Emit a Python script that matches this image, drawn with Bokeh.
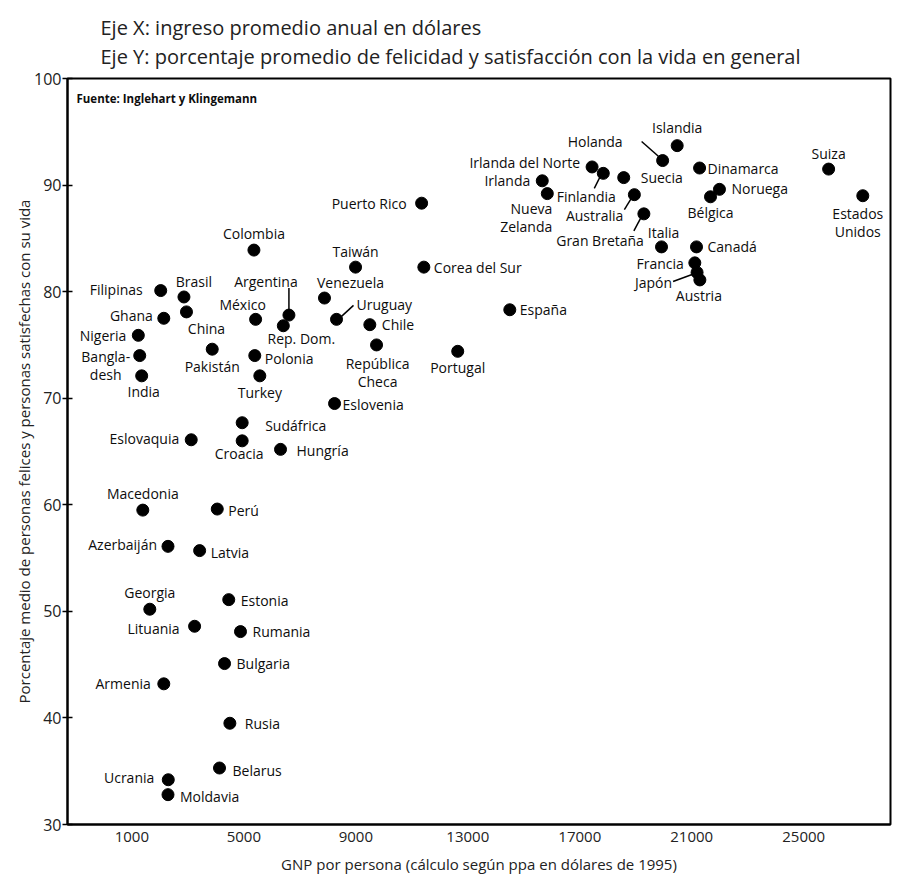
from bokeh.plotting import figure
from bokeh.models import Range1d, FixedTicker, Title, Label
from bokeh.embed import file_html
from bokeh.resources import INLINE
from bokeh.core.properties import value

# ---------------- data ----------------
countries = [
    "Islandia", "Holanda", "Dinamarca", "Suiza", "Irlanda del Norte", "Finlandia",
    "Suecia", "Noruega", "Bélgica", "Estados Unidos", "Irlanda", "Nueva Zelanda",
    "Australia", "Gran Bretaña", "Italia", "Canadá", "Francia", "Japón", "Austria",
    "Corea del Sur", "España", "Puerto Rico", "Portugal", "Colombia", "Taiwán",
    "Filipinas", "Brasil", "Ghana", "China", "México", "Argentina", "Rep. Dom.",
    "Venezuela", "Uruguay", "Chile", "República Checa", "Nigeria", "Bangladesh",
    "India", "Pakistán", "Polonia", "Turkey", "Eslovenia", "Sudáfrica",
    "Eslovaquia", "Croacia", "Hungría", "Macedonia", "Perú", "Azerbaiján",
    "Latvia", "Georgia", "Estonia", "Lituania", "Rumania", "Bulgaria", "Armenia",
    "Rusia", "Belarus", "Ucrania", "Moldavia",
]
gnp = [
    20480, 19960, 21280, 25890, 17440, 17840,
    18570, 21990, 21670, 27110, 15660, 15840,
    18950, 19290, 19920, 21170, 21110, 21190, 21290,
    11430, 14500, 11350, 12640, 5360, 8990,
    2030, 2860, 2140, 2950, 5420, 6610, 6410,
    7880, 8310, 9500, 9740, 1230, 1280,
    1350, 3870, 5390, 5570, 8240, 4940,
    3120, 4940, 6310, 1390, 4050, 2290,
    3420, 1640, 4460, 3240, 4880, 4310, 2140,
    4500, 4130, 2300, 2290,
]
happiness = [
    93.7, 92.3, 91.6, 91.5, 91.7, 91.1,
    90.7, 89.6, 88.9, 89.0, 90.4, 89.2,
    89.1, 87.3, 84.2, 84.2, 82.7, 81.8, 81.1,
    82.3, 78.3, 88.3, 74.4, 83.9, 82.3,
    80.1, 79.5, 77.5, 78.1, 77.4, 77.8, 76.8,
    79.4, 77.4, 76.9, 75.0, 75.9, 74.0,
    72.1, 74.6, 74.0, 72.1, 69.5, 67.7,
    66.1, 66.0, 65.2, 59.5, 59.6, 56.1,
    55.7, 50.2, 51.1, 48.6, 48.1, 45.1, 43.2,
    39.5, 35.3, 34.2, 32.8,
]
x_ticks = [1000, 5000, 9000, 13000, 17000, 21000, 25000]
y_ticks = [30, 40, 50, 60, 70, 80, 90, 100]

title_x = "Eje X: ingreso promedio anual en dólares"
title_y = "Eje Y: porcentaje promedio de felicidad y satisfacción con la vida en general"
x_label = "GNP por persona (cálculo según ppa en dólares de 1995)"
y_label = "Porcentaje medio de personas felices y personas satisfechas con su vida"
source_note = "Fuente: Inglehart y Klingemann"

# multi-line label texts
label_text = {
    "Nueva Zelanda": "Nueva\nZelanda",
    "Estados Unidos": "Estados\nUnidos",
    "República Checa": "República\nCheca",
    "Bangladesh": "Bangla-\ndesh",
}

# ---------------- layout / style ----------------
X0, X1 = -1300, 28100
Y0, Y1 = 30, 100
FW, FH = 823, 746
XPP = (X1 - X0) / FW     # data units per pixel
YPP = (Y1 - Y0) / FH

FONT = "Open Sans"
INK = "#0d0d0d"

# label placement in screen px relative to the dot: dx, dy(down), align, baseline
place = {
    "Islandia": (0, -18, "center", "middle"),
    "Holanda": (-40, -19, "right", "middle"),
    "Dinamarca": (8, 0, "left", "middle"),
    "Suiza": (0, -16, "center", "middle"),
    "Irlanda del Norte": (-12, -4, "right", "middle"),
    "Finlandia": (-17, 23, "center", "middle"),
    "Suecia": (17, 0, "left", "middle"),
    "Noruega": (12, -1, "left", "middle"),
    "Bélgica": (0, 16, "center", "middle"),
    "Estados Unidos": (-5, 8, "center", "top"),
    "Irlanda": (-12, 0, "right", "middle"),
    "Nueva Zelanda": (5, 5, "right", "top"),
    "Australia": (-11, 21, "right", "middle"),
    "Gran Bretaña": (0, 27, "right", "middle"),
    "Italia": (2, -14, "center", "middle"),
    "Canadá": (11, 0, "left", "middle"),
    "Francia": (-11, 1, "right", "middle"),
    "Japón": (-25, 10, "right", "middle"),
    "Austria": (-1, 16, "center", "middle"),
    "Corea del Sur": (10, 0, "left", "middle"),
    "España": (10, 0, "left", "middle"),
    "Puerto Rico": (-15, 0, "right", "middle"),
    "Portugal": (0, 16, "center", "middle"),
    "Colombia": (0, -17, "center", "middle"),
    "Taiwán": (0, -16, "center", "middle"),
    "Filipinas": (-18, -1, "right", "middle"),
    "Brasil": (10, -15, "center", "middle"),
    "Ghana": (-11, -3, "right", "middle"),
    "China": (20, 17, "center", "middle"),
    "México": (-13, -15, "center", "middle"),
    "Argentina": (-23, -34, "center", "middle"),
    "Rep. Dom.": (18, 13, "center", "middle"),
    "Venezuela": (26, -16, "center", "middle"),
    "Uruguay": (20, -15, "left", "middle"),
    "Chile": (12, 0, "left", "middle"),
    "República Checa": (1, 9, "center", "top"),
    "Nigeria": (-12, 0, "right", "middle"),
    "Bangladesh": (-34, -9, "center", "top"),
    "India": (2, 16, "center", "middle"),
    "Pakistán": (0, 17, "center", "middle"),
    "Polonia": (10, 3, "left", "middle"),
    "Turkey": (0, 17, "center", "middle"),
    "Eslovenia": (8, 1, "left", "middle"),
    "Sudáfrica": (23, 3, "left", "middle"),
    "Eslovaquia": (-12, -1, "right", "middle"),
    "Croacia": (-3, 13, "center", "middle"),
    "Hungría": (16, 1, "left", "middle"),
    "Macedonia": (0, -17, "center", "middle"),
    "Perú": (11, 1, "left", "middle"),
    "Azerbaiján": (-11, -2, "right", "middle"),
    "Latvia": (11, 2, "left", "middle"),
    "Georgia": (0, -17, "center", "middle"),
    "Estonia": (12, 1, "left", "middle"),
    "Lituania": (-15, 2, "right", "middle"),
    "Rumania": (12, 0, "left", "middle"),
    "Bulgaria": (12, 0, "left", "middle"),
    "Armenia": (-13, 0, "right", "middle"),
    "Rusia": (15, 0, "left", "middle"),
    "Belarus": (13, 2, "left", "middle"),
    "Ucrania": (-14, -2, "right", "middle"),
    "Moldavia": (12, 2, "left", "middle"),
}

# leader lines in screen px relative to the dot: (x0, y0, x1, y1)
leaders = {
    "Holanda": (-21, -19, -4, -4),
    "Finlandia": (-9, 15, -3, 3),
    "Australia": (-10, 15, -2, 2),
    "Gran Bretaña": (-10, 17, -2, 2),
    "Japón": (-24, 9, -5, 2),
    "Argentina": (0, -27, 0, -5),
    "Uruguay": (5, -3, 17, -14),
}

p = figure(frame_width=FW, frame_height=FH,
           output_backend="svg", toolbar_location=None, title=None,
           x_range=Range1d(X0, X1), y_range=Range1d(Y0, Y1),
           min_border_left=67, min_border_right=2, min_border_top=78,
           min_border_bottom=0)
p.background_fill_color = "white"
p.border_fill_color = "white"
p.outline_line_color = "black"
p.outline_line_width = 2
p.grid.visible = False

p.xaxis.ticker = FixedTicker(ticks=x_ticks)
p.xaxis.major_tick_in = 0
p.xaxis.major_tick_out = 0
p.xaxis.minor_tick_line_color = None
p.xaxis.major_label_standoff = 7
p.xaxis.major_label_text_font = FONT
p.xaxis.major_label_text_font_size = "15px"
p.xaxis.major_label_text_color = "#222222"
p.xaxis.axis_label = x_label
p.xaxis.axis_label_standoff = 9
p.xaxis.axis_label_text_font = FONT
p.xaxis.axis_label_text_font_size = "15px"
p.xaxis.axis_label_text_font_style = "normal"
p.xaxis.axis_label_text_color = "#222222"

p.yaxis.ticker = FixedTicker(ticks=y_ticks)
p.yaxis.major_tick_in = 5
p.yaxis.major_tick_out = 5
p.yaxis.minor_tick_line_color = None
p.yaxis.major_label_standoff = 1
p.yaxis.major_label_text_font = FONT
p.yaxis.major_label_text_font_size = "16px"
p.yaxis.major_label_text_color = "#222222"

for ax in (p.xaxis, p.yaxis):
    ax.axis_line_width = 2
    ax.axis_line_color = "black"
    ax.major_tick_line_color = "black"
    ax.major_tick_line_width = 1.5

p.add_layout(Title(text=y_label, align="center", text_font=FONT,
                   text_font_size="15px", text_font_style="normal",
                   text_color="#222222", standoff=-4), "left")
p.add_layout(Title(text=title_x + "\n" + title_y, align="left", offset=33,
                   vertical_align="top",
                   text_font=FONT, text_font_size="20px", text_font_style="normal",
                   text_color="#222222", text_line_height=1.1, standoff=12), "above")

# points
p.scatter(gnp, happiness, size=12, color="black", marker="circle")

# leader lines
lx0, ly0, lx1, ly1 = [], [], [], []
for name, (a, b, c, d) in leaders.items():
    i = countries.index(name)
    lx0.append(gnp[i] + a * XPP)
    ly0.append(happiness[i] - b * YPP)
    lx1.append(gnp[i] + c * XPP)
    ly1.append(happiness[i] - d * YPP)
p.segment(lx0, ly0, lx1, ly1, line_color="black", line_width=1.5)

# labels
groups = {}
for i, name in enumerate(countries):
    dx, dy, align, base = place[name]
    g = groups.setdefault((align, base), {"x": [], "y": [], "t": []})
    g["x"].append(gnp[i] + dx * XPP)
    g["y"].append(happiness[i] - dy * YPP)
    g["t"].append(label_text.get(name, name))
for (align, base), g in groups.items():
    p.text(g["x"], g["y"], text=g["t"], text_align=align, text_baseline=base,
           text_font=value(FONT), text_font_size="14px", text_color=INK,
           text_line_height=0.95)

p.add_layout(Label(x=X0, y=Y1 - 20 * YPP, x_offset=9, text=source_note,
                   text_font=FONT, text_font_size="11.5px", text_font_style="bold",
                   text_color=INK, text_baseline="middle"))

open("out.html", "w").write(file_html(p, INLINE))
